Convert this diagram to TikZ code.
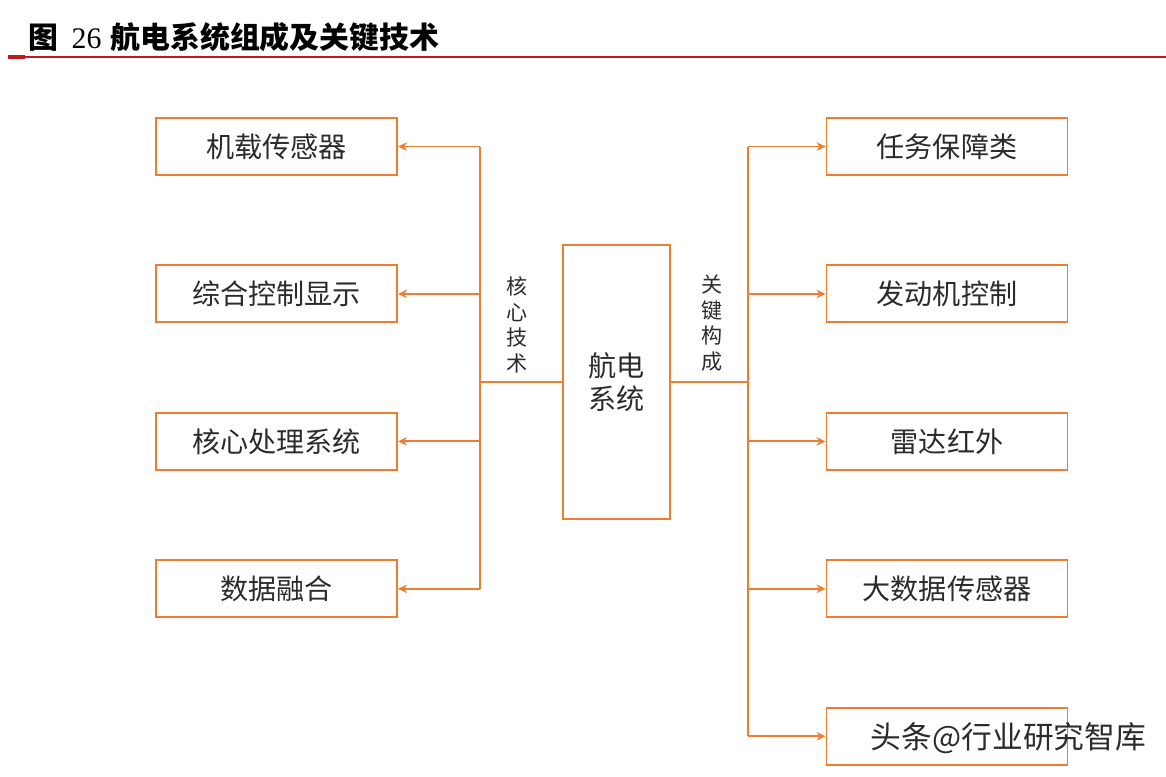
\documentclass[tikz,border=0pt]{standalone}
\usepackage{fontspec}
\usepackage{xcolor}
\usepackage{tikz}
\usetikzlibrary{arrows.meta,positioning}
\newfontfamily\cjk{Noto Sans CJK SC}
\newfontfamily\tnr{Liberation Serif}
\definecolor{Accent}{HTML}{ED7D31}
\definecolor{Rule}{HTML}{C0161C}
\definecolor{Ink}{HTML}{2B2B2B}

\begin{document}
\begin{tikzpicture}[
  node distance=1.77cm,
  itembox/.style={draw=Accent,line width=1.1pt,minimum width=4.82cm,minimum height=1.14cm,inner sep=0pt,text=Ink,font=\cjk\fontsize{16}{19}\selectfont},
  hubbox/.style={draw=Accent,line width=1.1pt,minimum width=2.14cm,minimum height=5.48cm,align=center,text=Ink,font=\cjk\fontsize{16}{18.7}\selectfont},
  tag/.style={align=center,inner sep=0pt,text=Ink,font=\cjk\fontsize{12}{14.6}\selectfont},
  link/.style={line width=1.1pt,color=Accent},
  arr/.style={-{Stealth[length=1.8mm,width=1.7mm]},line width=1.1pt,color=Accent}]
  \useasboundingbox (0,0) rectangle (23.32,-15.52);
  \node[anchor=west,inner sep=0pt,font=\fontsize{17}{20}\selectfont] (title) at (0.56,-0.74) {{\cjk\bfseries 图}\hspace{0.45em}{\tnr 26} {\cjk\bfseries 航电系统组成及关键技术}};
  \draw[Rule,line width=1.1pt] (0.16,-1.14) -- (23.32,-1.14);
  \draw[Rule,line width=2.4pt] (0.16,-1.14) -- (0.5,-1.14);
  \node[hubbox] (hub) at (12.33,-7.64) {航电\\系统};
  \node[itembox] (sensor) at (5.53,-2.93) {机载传感器};
  \node[itembox,below=of sensor] (display) {综合控制显示};
  \node[itembox,below=of display] (core) {核心处理系统};
  \node[itembox,below=of core] (fusion) {数据融合};
  \node[itembox] (mission) at (18.94,-2.93) {任务保障类};
  \node[itembox,below=of mission] (engine) {发动机控制};
  \node[itembox,below=of engine] (radar) {雷达红外};
  \node[itembox,below=of radar] (bigdata) {大数据传感器};
  \node[itembox,below=of bigdata] (spare) {};
  \node[tag] (coretag) at (10.34,-6.5) {核\\心\\技\\术};
  \node[tag] (keytag) at (14.24,-6.46) {关\\键\\构\\成};
  \coordinate (lj) at (9.6,-7.64);
  \coordinate (rj) at (14.96,-7.64);
  \draw[link] (hub.west) -- (lj); \draw[link] (hub.east) -- (rj);
  \draw[link] (lj |- sensor.east) -- (lj |- fusion.east);
  \draw[link] (rj |- mission.west) -- (rj |- spare.west);
  \foreach \n in {sensor,display,core,fusion} \draw[arr] (lj |- \n.east) -- (\n.east);
  \foreach \n in {mission,engine,radar,bigdata,spare} \draw[arr] (rj |- \n.west) -- (\n.west);
  \node[text=Ink,font=\cjk\fontsize{17.5}{20}\selectfont] (mark) at (20.17,-14.76) {头条@行业研究智库};
\end{tikzpicture}
\end{document}
